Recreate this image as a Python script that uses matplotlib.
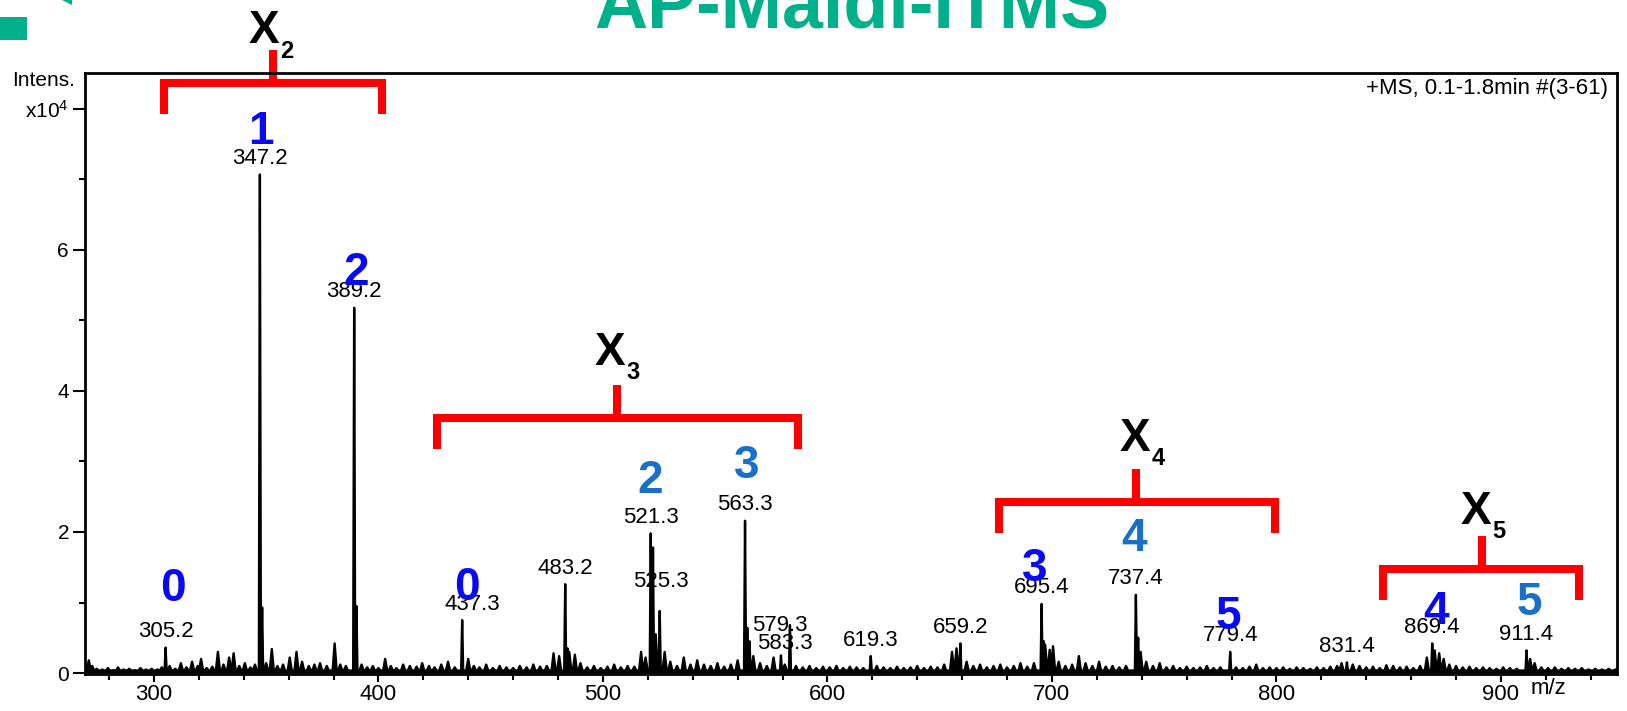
"""AP-MALDI-ITMS mass spectrum with the X2..X5 oligomer clusters bracketed."""

import numpy as np
import matplotlib
matplotlib.use("Agg")
from matplotlib import pyplot as plt
from matplotlib.patches import Rectangle, Polygon

plt.rcParams["font.family"] = ["Liberation Sans", "DejaVu Sans"]
plt.rcParams["mathtext.fontset"] = "custom"
plt.rcParams["mathtext.rm"] = "Liberation Sans"
plt.rcParams["mathtext.it"] = "Liberation Sans:italic"
plt.rcParams["mathtext.bf"] = "Liberation Sans:bold"

# labelled peaks: m/z and intensity (x10^4)
PEAK_MZ = [305.2, 347.2, 348.2, 389.2, 390.2, 437.3, 483.2, 484.2, 521.3, 522.3,
           525.3, 563.3, 564.3, 565.3, 579.3, 583.3, 619.3, 659.2, 695.4, 696.4,
           737.4, 738.4, 779.4, 831.4, 869.4, 911.4]
PEAK_INT = [0.36, 7.07, 0.93, 5.18, 0.95, 0.75, 1.26, 0.35, 1.98, 1.78,
            0.88, 2.16, 0.64, 0.45, 0.25, 0.68, 0.24, 0.42, 0.98, 0.45,
            1.11, 0.50, 0.30, 0.15, 0.42, 0.32]
LABELLED = [305.2, 347.2, 389.2, 437.3, 483.2, 521.3, 525.3, 563.3, 579.3, 583.3,
            619.3, 659.2, 695.4, 737.4, 779.4, 831.4, 869.4, 911.4]

# small peaks and noise along the baseline
NOISE_MZ = [271.0, 272.5, 274.5, 277, 279.5, 282, 284, 286.5, 289, 291.5, 294, 296.5, 299,
            301.5, 303.5, 307, 309.5, 312, 314.5, 317, 319.5, 321, 323.5, 326, 328.5, 331,
            333.5, 335.5, 338, 340.5, 343, 345, 350, 352.5, 355, 357.5, 360.5, 363.5, 366,
            369, 371.5, 374, 377, 380.5, 383, 385.5, 392.5, 395, 397.5, 400, 403, 405.5, 408,
            411, 414, 417, 419.5, 422.5, 425, 428, 431, 434, 440, 442.5, 445, 448, 451, 454,
            457, 460, 463, 466, 469, 472, 475, 478, 480.5, 485, 487.5, 490, 493, 496, 499,
            502, 505, 508, 511, 514, 517, 519, 523.5, 527.5, 530, 533, 536, 539, 542, 545,
            548, 551, 554, 557, 560, 567, 570, 573, 576, 581, 586, 589, 592, 595, 598, 601,
            604, 607, 610, 613, 616, 622, 625, 628, 631, 634, 637, 640, 643, 646, 649, 652,
            655.5, 657.5, 662, 665, 668, 671, 674, 677, 680, 683, 686, 689, 692, 697, 699,
            700.5, 703, 706, 709, 712, 715, 718, 721, 724, 727, 730, 733, 739.5, 742, 745,
            748, 751, 754, 757, 760, 763, 766, 769, 772, 775, 782, 785, 788, 791, 794, 797,
            800, 803, 806, 809, 812, 815, 818, 821, 824, 827, 829, 834, 837, 840, 843, 846,
            849, 852, 855, 858, 861, 864, 867, 870.5, 872.5, 874.5, 877, 880, 883, 886, 889,
            892, 895, 898, 901, 904, 907, 913, 915, 918, 921, 924, 927, 930, 933, 936, 939,
            942, 945, 948, 951]
NOISE_INT = [0.18, 0.10, 0.06, 0.05, 0.07, 0.04, 0.08, 0.05, 0.06, 0.04, 0.07, 0.05, 0.06,
             0.05, 0.08, 0.10, 0.06, 0.14, 0.08, 0.16, 0.10, 0.20, 0.07, 0.09, 0.30, 0.12,
             0.22, 0.28, 0.10, 0.14, 0.08, 0.12, 0.14, 0.34, 0.10, 0.12, 0.22, 0.30, 0.16,
             0.10, 0.12, 0.14, 0.10, 0.42, 0.12, 0.10, 0.12, 0.08, 0.10, 0.07, 0.20, 0.10, 0.07,
             0.12, 0.10, 0.09, 0.14, 0.10, 0.08, 0.12, 0.16, 0.08, 0.20, 0.10, 0.08, 0.12, 0.07, 0.10,
             0.08, 0.07, 0.10, 0.08, 0.12, 0.09, 0.10, 0.28, 0.24, 0.30, 0.26, 0.14, 0.08, 0.10, 0.07,
             0.09, 0.12, 0.08, 0.10, 0.09, 0.30, 0.22, 0.55, 0.30, 0.16, 0.10, 0.22, 0.12, 0.18, 0.12,
             0.10, 0.14, 0.09, 0.12, 0.18, 0.24, 0.14, 0.10, 0.22, 0.12, 0.10, 0.08, 0.10, 0.07, 0.09, 0.08,
             0.10, 0.07, 0.09, 0.08, 0.07, 0.10, 0.08, 0.07, 0.09, 0.07, 0.08, 0.10, 0.07, 0.09, 0.08, 0.12,
             0.30, 0.35, 0.16, 0.10, 0.12, 0.08, 0.10, 0.12, 0.08, 0.10, 0.14, 0.09, 0.14, 0.40, 0.33,
             0.38, 0.16, 0.10, 0.12, 0.24, 0.14, 0.10, 0.16, 0.09, 0.10, 0.08, 0.10, 0.30, 0.16, 0.10,
             0.14, 0.08, 0.10, 0.07, 0.09, 0.07, 0.08, 0.10, 0.07, 0.08, 0.08, 0.07, 0.09, 0.12, 0.07, 0.08,
             0.07, 0.08, 0.06, 0.08, 0.07, 0.06, 0.08, 0.07, 0.09, 0.10, 0.14, 0.12, 0.10, 0.08, 0.09, 0.07,
             0.11, 0.10, 0.08, 0.09, 0.07, 0.10, 0.22, 0.32, 0.28, 0.20, 0.12, 0.10, 0.08, 0.09, 0.07,
             0.08, 0.07, 0.06, 0.08, 0.07, 0.06, 0.20, 0.14, 0.08, 0.07, 0.08, 0.06, 0.07, 0.06, 0.07, 0.05,
             0.06, 0.05, 0.06, 0.05]

# cluster member numbers above the peaks
NUM_TEXT = ["0", "1", "2", "0", "2", "3", "3", "4", "5", "4", "5"]
NUM_X = [308.5, 347.7, 390.0, 439.4, 520.9, 564.0, 692.4, 736.5, 778.4, 871.1, 912.5]
NUM_Y = [1.19, 7.67, 5.67, 1.20, 2.72, 2.94, 1.48, 1.90, 0.80, 0.86, 0.99]
NUM_COL = ["blue", "blue", "blue", "blue", "steel", "steel", "blue", "steel", "blue", "blue", "steel"]

# red brackets: name, left, right, stem x, bar y, X label position
BRACKET_NAME = ["2", "3", "4", "5"]
BRACKET_LEFT = [304.5, 426.0, 676.4, 847.5]
BRACKET_RIGHT = [401.6, 586.9, 799.3, 934.7]
BRACKET_STEM = [353.0, 506.3, 737.4, 891.5]
BRACKET_BAR = [8.37, 3.62, 2.43, 1.48]
XLABEL_X = [349.0, 503.0, 737.0, 889.0]
XLABEL_Y = [9.10, 4.54, 3.32, 2.29]

COLORS = {"blue": "#0A0AF2", "steel": "#1A70C6"}
RED = "#FF0000"
TEAL = "#00B08A"

W, H = 1627, 711
fig = plt.figure(figsize=(W / 100, H / 100), dpi=100)
ax = fig.add_axes([85 / W, 37 / H, 1532 / W, 601 / H])
ax.set_xlim(269.3, 951.7)
ax.set_ylim(-0.014, 8.51)

# spectrum profile: narrow triangles for every peak on a low baseline
n_main = len(PEAK_MZ)
mz = np.array(PEAK_MZ + NOISE_MZ)
inten = np.array(PEAK_INT + NOISE_INT)
width = np.array([0.45] * n_main + [0.9] * len(NOISE_MZ))
order = np.argsort(mz)
base = 0.035
xs, ys = [269.3], [base]
for i in order:
    xs += [mz[i] - width[i], mz[i], mz[i] + width[i]]
    ys += [base, inten[i], base]
xs.append(951.7)
ys.append(base)
ax.fill_between(xs, 0, ys, color="black", lw=0)
ax.plot(xs, ys, color="black", lw=1.7)

# peak labels, most centred just above the tip
label_shift = {437.3: (10, 16), 525.3: (1, 29), 579.3: (-1, 30), 583.3: (-5, -18)}
for m in LABELLED:
    h = PEAK_INT[PEAK_MZ.index(m)]
    dx, dy = label_shift.get(m, (0, 16))
    ax.annotate(f"{m:.1f}", xy=(m, h), xytext=(dx, dy), textcoords="offset pixels",
                ha="center", va="center", fontsize=16)

for t, x, y, c in zip(NUM_TEXT, NUM_X, NUM_Y, NUM_COL):
    ax.text(x, y, t, ha="center", va="center", fontsize=33, fontweight="bold", color=COLORS[c])

leg, rise = 0.44, 0.46
for name, l, r, s, yb, lx, ly in zip(BRACKET_NAME, BRACKET_LEFT, BRACKET_RIGHT, BRACKET_STEM,
                                     BRACKET_BAR, XLABEL_X, XLABEL_Y):
    ax.plot([l, l, r, r], [yb - leg, yb, yb, yb - leg], color=RED, lw=5.8,
            solid_joinstyle="miter", solid_capstyle="butt", clip_on=False)
    ax.plot([s, s], [yb, yb + rise], color=RED, lw=5.8, solid_capstyle="butt", clip_on=False)
    ax.text(lx, ly, "X", ha="center", va="center", fontsize=33, fontweight="bold", clip_on=False)
    ax.annotate(name, xy=(lx, ly), xytext=(23, -20), textcoords="offset pixels",
                ha="center", va="center", fontsize=17, fontweight="bold", annotation_clip=False)

# axes styling
for side in ["top", "right", "left", "bottom"]:
    ax.spines[side].set_linewidth(2.0)
ax.set_xticks(np.arange(300, 901, 100))
ax.set_xticks(np.arange(280, 951, 20), minor=True)
ax.set_yticks([0, 2, 4, 6, 8])
ax.set_yticklabels(["0", "2", "4", "6", "x10$^4$"])
ax.set_yticks([1, 3, 5, 7], minor=True)
ax.tick_params(axis="both", which="major", direction="out", width=1.5, labelsize=16)
ax.tick_params(axis="y", which="major", length=8.5, pad=3)
ax.tick_params(axis="y", which="minor", length=4.3, width=1.5)
ax.tick_params(axis="x", which="major", length=6, pad=1)
ax.tick_params(axis="x", which="minor", length=4, width=1.5)
ax.set_yticklabels(["0", "2", "4", "6", "x10$^4$"], fontsize=15)

ax.text(0.9941, 0.9734, "+MS, 0.1-1.8min #(3-61)", transform=ax.transAxes,
        ha="right", va="center", fontsize=16)
fig.text(75 / W, 1 - 80 / H, "Intens.", ha="right", va="center", fontsize=15)
fig.text(1548 / W, 1 - 689 / H, "m/z", ha="center", va="center", fontsize=16)

# slide decorations cut off at the top
fig.text(852 / W, 1 - 27 / H, "AP-Maldi-ITMS", ha="center", va="baseline",
         fontsize=53, fontweight="bold", color=TEAL)
fig.patches.append(Rectangle((0, 1 - 40 / H), 27 / W, 23 / H, transform=fig.transFigure,
                             color=TEAL, lw=0))
fig.patches.append(Polygon([(62 / W, 1.0), (72 / W, 1.0), (72 / W, 1 - 5 / H)],
                           transform=fig.transFigure, color=TEAL, lw=0))

fig.savefig("out.png", dpi=100)
